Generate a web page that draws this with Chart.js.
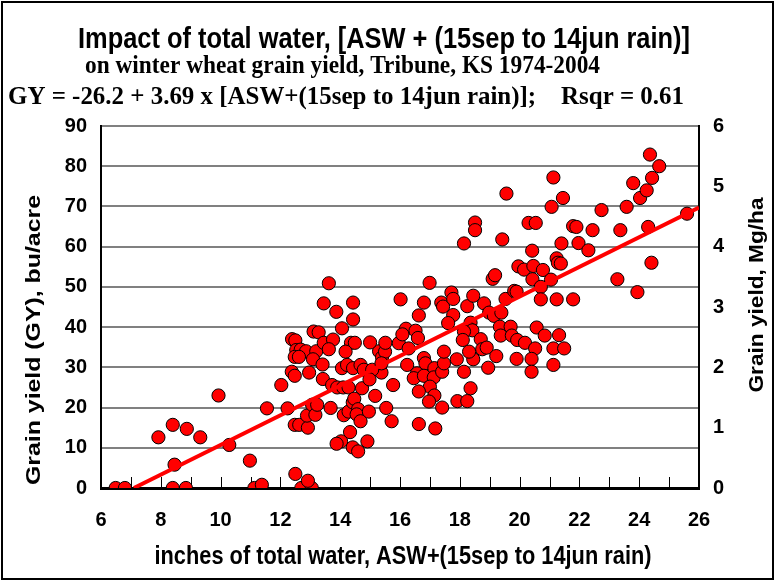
<!DOCTYPE html>
<html><head><meta charset="utf-8">
<script src="https://cdn.jsdelivr.net/npm/chart.js@4.4.1/dist/chart.umd.min.js"></script>
<style>html,body{margin:0;padding:0;background:#fff}</style>
</head><body>
<canvas id="c" width="775" height="581"></canvas>
<script>
// ---- text ----
const titleMain = "Impact of total water, [ASW + (15sep to 14jun rain)]";
const titleSub1 = "on winter wheat grain yield, Tribune, KS 1974-2004";
const titleSub2 = "GY = -26.2 + 3.69 x [ASW+(15sep to 14jun rain)];    Rsqr = 0.61";
const xAxisTitle = "inches of total water, ASW+(15sep to 14jun rain)";
const yAxisTitle = "Grain yield (GY), bu/acre";
const y2AxisTitle = "Grain yield, Mg/ha";

// ---- axes ----
const xTickLabels = [6, 8, 10, 12, 14, 16, 18, 20, 22, 24, 26];
const yTickLabels = [0, 10, 20, 30, 40, 50, 60, 70, 80, 90];
const y2TickLabels = [0, 1, 2, 3, 4, 5, 6];

// ---- regression ----
const fitIntercept = -26.2;
const fitSlope = 3.69;

// ---- observations: total water (in) and grain yield (bu/acre) ----
const waterIn = [
 6.49,6.80,7.92,8.40,8.84,8.46,8.40,8.87,9.32,9.93,10.29,10.98,11.13,11.38,11.55,
 12.03,12.24,12.38,12.48,12.39,12.50,12.53,12.68,12.86,13.20,12.48,12.62,13.09,12.48,12.63,
 12.92,12.50,12.70,13.05,12.92,12.89,13.06,13.17,13.23,12.96,13.42,13.11,13.28,13.45,13.76,
 13.62,13.41,13.62,13.45,13.87,13.68,14.06,14.43,14.43,14.36,14.49,14.18,13.73,13.90,14.10,
 14.28,14.73,14.12,14.28,14.42,14.47,14.60,14.55,14.68,14.33,14.03,13.88,14.42,14.60,14.91,
 14.96,15.17,15.54,15.72,15.77,15.38,14.06,14.23,14.43,14.68,14.79,15.07,14.98,15.30,15.40,
 15.50,15.38,15.00,15.51,15.96,16.20,16.08,16.52,16.60,16.29,16.24,16.80,16.85,16.57,16.46,
 16.80,17.15,17.13,17.00,16.63,17.15,16.97,17.41,17.47,17.47,17.90,18.45,18.14,18.36,17.92,
 18.25,17.41,16.63,17.18,16.02,16.80,16.63,16.99,17.38,17.44,17.72,17.78,17.78,17.61,18.25,
 18.45,18.81,18.36,18.31,18.42,18.14,18.10,18.70,18.75,18.90,18.31,19.22,18.95,18.51,18.51,
 18.14,19.10,19.18,19.56,19.42,18.98,19.14,19.39,19.53,19.82,19.90,19.34,19.70,19.37,19.74,
 19.92,20.18,20.57,20.84,21.32,20.52,21.13,21.49,19.90,20.40,21.13,20.40,20.30,20.54,21.79,
 21.90,22.44,23.37,20.42,21.40,21.97,22.30,21.24,21.28,21.38,19.96,20.15,20.46,20.78,20.43,
 21.05,20.71,23.27,23.94,20.71,21.24,21.79,21.13,21.45,21.07,23.80,24.03,23.58,22.74,24.36,
 24.67,24.43,24.25,25.60,24.30,24.41
];
const yieldBu = [
 0,0,12.6,0,0,5.8,15.7,14.7,12.6,23.0,10.7,6.8,0,0.8,19.8,
 25.6,19.8,28.9,27.9,37.0,36.7,34.3,34.4,34.0,34.0,32.6,32.6,32.0,15.7,15.7,
 15.0,3.5,0,0,1.8,18.0,20.7,18.2,20.7,28.7,27.1,38.9,38.7,36.1,36.9,
 34.5,30.7,50.9,45.9,43.8,19.9,39.7,46.1,41.9,36.1,36.1,33.9,25.6,25.0,25.0,
 25.0,24.8,18.1,19.0,21.3,22.2,19.6,18.3,16.6,13.9,11.6,11.0,10.1,9.1,11.6,
 19.0,22.9,19.9,16.6,25.6,28.7,29.8,30.6,29.8,30.6,29.4,29.4,27.0,34.0,32.5,
 33.9,31.0,36.2,36.1,36.0,39.6,38.2,39.1,37.3,34.7,30.6,32.3,31.0,28.5,27.3,
 27.9,29.8,27.5,25.2,24.0,23.0,21.5,28.9,31.0,33.9,32.0,32.0,28.9,24.8,21.6,
 21.6,20.0,15.9,14.8,46.9,46.1,42.9,51.0,46.1,45.1,48.6,47.0,43.0,41.0,45.2,
 47.8,45.9,41.1,39.6,39.2,38.9,36.8,37.0,34.5,34.9,33.9,32.8,29.9,66.0,64.1,
 60.8,52.0,52.9,73.2,61.8,43.6,42.8,43.6,47.0,49.0,48.8,40.1,40.1,37.9,37.9,
 36.8,36.1,39.9,37.9,38.0,34.7,34.7,34.7,32.1,32.1,30.6,28.9,65.9,65.9,65.1,
 64.9,64.1,64.1,59.0,60.8,60.9,59.1,57.1,56.0,55.8,55.1,54.3,55.2,54.2,51.9,
 51.8,50.0,51.9,48.7,46.9,46.9,46.9,77.2,72.1,69.9,75.8,72.1,69.9,69.1,82.9,
 80.0,77.1,74.0,68.2,64.9,56.0
];

const points = waterIn.map((x, i) => ({x: x, y: yieldBu[i]}));
const fitStart = -fitIntercept / fitSlope;
const fitEnd = xTickLabels[xTickLabels.length - 1];
const fitLine = [fitStart, fitEnd].map(x => ({x: x, y: fitIntercept + fitSlope * x}));

const SANS = '"Liberation Sans", Arial, sans-serif';
const SERIF = '"Liberation Serif", "Times New Roman", serif';

function drawFitText(ctx, text, font, x, y, align, targetW, rot) {
  ctx.save();
  ctx.font = font;
  ctx.fillStyle = '#000';
  ctx.textBaseline = 'middle';
  const w = ctx.measureText(text).width;
  const s = targetW ? targetW / w : 1;
  ctx.translate(x, y);
  if (rot) ctx.rotate(rot);
  ctx.scale(s, 1);
  ctx.textAlign = align;
  ctx.fillText(text, 0, 0);
  ctx.restore();
}

const decor = {
  id: 'decor',
  beforeDraw(chart) {
    const ctx = chart.ctx;
    ctx.save();
    ctx.fillStyle = '#fff';
    ctx.fillRect(0, 0, chart.width, chart.height);
    ctx.strokeStyle = '#000';
    ctx.lineWidth = 2;
    ctx.strokeRect(2, 2, chart.width - 4, chart.height - 4);
    ctx.restore();
  },
  beforeDatasetsDraw(chart) {
    const ctx = chart.ctx, xs = chart.scales.x, ys = chart.scales.y;
    const bottom = ys.getPixelForValue(0);
    ctx.save();
    ctx.strokeStyle = '#000';
    ctx.lineWidth = 1;
    for (let v = xs.min + 1; v < xs.max; v++) {
      const px = Math.round(xs.getPixelForValue(v)) + 0.5;
      ctx.beginPath();
      ctx.moveTo(px, bottom);
      ctx.lineTo(px, bottom - 11);
      ctx.stroke();
    }
    ctx.restore();
  },
  afterDraw(chart) {
    const ctx = chart.ctx;
    const ca = chart.chartArea;
    drawFitText(ctx, titleMain, 'bold 29px ' + SANS, 384, 40, 'center', 612);
    drawFitText(ctx, titleSub1, 'bold 26px ' + SERIF, 85, 66, 'left', 515);
    drawFitText(ctx, titleSub2, 'bold 26px ' + SERIF, 8, 97, 'left', 676);
    drawFitText(ctx, xAxisTitle, 'bold 25px ' + SANS, (ca.left + ca.right) / 2 + 3, 557, 'center', 497);
    drawFitText(ctx, yAxisTitle, 'bold 21px ' + SANS, 34, 340, 'center', 290, -Math.PI / 2);
    drawFitText(ctx, y2AxisTitle, 'bold 21px ' + SANS, 757, 295, 'center', 195, -Math.PI / 2);
  }
};

const tickFont = {family: SANS, size: 20, weight: 'bold'};

new Chart(document.getElementById('c'), {
  type: 'scatter',
  data: {
    datasets: [
      {
        type: 'line', label: 'fit', data: fitLine, order: 0,
        borderColor: '#FF0000', borderWidth: 4, pointRadius: 0, fill: false,
        xAxisID: 'x', yAxisID: 'y'
      },
      {
        label: 'GY', data: points, order: 1,
        backgroundColor: '#FF0000', borderColor: '#000', borderWidth: 1,
        pointRadius: 6.6, pointHoverRadius: 6.6,
        xAxisID: 'x', yAxisID: 'y'
      }
    ]
  },
  options: {
    responsive: false,
    animation: false,
    events: [],
    layout: {padding: {top: 126, left: 0, right: 0, bottom: 0}},
    plugins: {legend: {display: false}, tooltip: {enabled: false}, title: {display: false}},
    scales: {
      x: {
        type: 'linear', position: 'bottom',
        min: xTickLabels[0], max: xTickLabels[xTickLabels.length - 1],
        afterBuildTicks: s => { s.ticks = xTickLabels.map(v => ({value: v})); },
        ticks: {font: tickFont, color: '#000', padding: 20, maxRotation: 0, autoSkip: false},
        grid: {display: false, drawTicks: false},
        border: {display: true, color: '#000', width: 3},
        afterFit: s => { s.height = 93; }
      },
      y: {
        position: 'left',
        min: yTickLabels[0], max: yTickLabels[yTickLabels.length - 1],
        afterBuildTicks: s => { s.ticks = yTickLabels.map(v => ({value: v})); },
        ticks: {font: tickFont, color: '#000', padding: 14},
        grid: {color: '#808080', lineWidth: 2, drawTicks: false},
        border: {display: true, color: '#000', width: 2},
        afterFit: s => { s.width = 101; }
      },
      y2: {
        position: 'right',
        min: y2TickLabels[0], max: y2TickLabels[y2TickLabels.length - 1],
        afterBuildTicks: s => { s.ticks = y2TickLabels.map(v => ({value: v})); },
        ticks: {font: tickFont, color: '#000', padding: 14},
        grid: {drawOnChartArea: false, drawTicks: false},
        border: {display: true, color: '#000', width: 2},
        afterFit: s => { s.width = 76; }
      }
    }
  },
  plugins: [decor]
});
</script>
</body></html>
